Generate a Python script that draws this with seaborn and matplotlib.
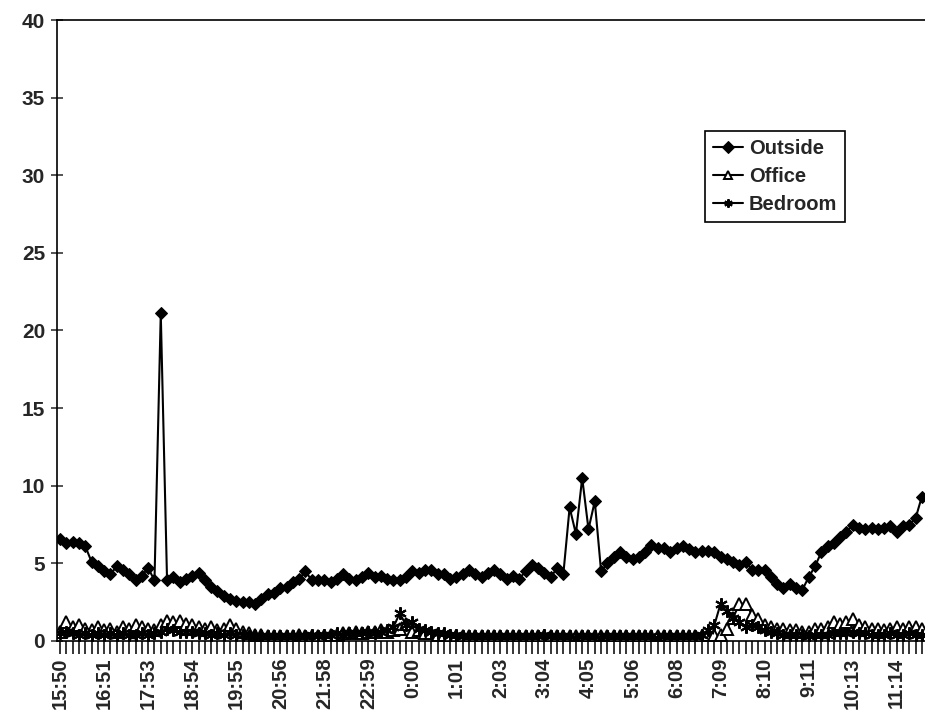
import numpy as np
import pandas as pd
import matplotlib
matplotlib.use("Agg")
import matplotlib.pyplot as plt
import seaborn as sns

# labelled times (every 7th reading)
time_labels = ["15:50", "16:51", "17:53", "18:54", "19:55", "20:56", "21:58",
               "22:59", "0:00", "1:01", "2:03", "3:04", "4:05", "5:06", "6:08",
               "7:09", "8:10", "9:11", "10:13", "11:14"]
label_step = 7

outside = [6.6, 6.3, 6.4, 6.3, 6.1, 5.1, 4.8, 4.5, 4.3, 4.8,
           4.6, 4.3, 3.9, 4.2, 4.7, 3.9, 21.1, 3.9, 4.1, 3.8,
           4.0, 4.2, 4.4, 3.9, 3.5, 3.2, 2.9, 2.7, 2.6, 2.5,
           2.5, 2.4, 2.7, 3.0, 3.1, 3.4, 3.5, 3.8, 4.0, 4.5,
           3.9, 3.9, 3.9, 3.8, 4.0, 4.3, 4.0, 3.9, 4.1, 4.4,
           4.1, 4.2, 4.0, 3.9, 3.9, 4.1, 4.5, 4.4, 4.6, 4.6,
           4.3, 4.3, 4.0, 4.1, 4.3, 4.6, 4.3, 4.1, 4.4, 4.6,
           4.3, 4.0, 4.2, 4.0, 4.5, 4.9, 4.7, 4.4, 4.1, 4.7,
           4.3, 8.6, 6.9, 10.5, 7.2, 9.0, 4.5, 5.0, 5.4, 5.7,
           5.4, 5.3, 5.4, 5.7, 6.2, 6.0, 6.0, 5.7, 6.0, 6.1,
           5.9, 5.7, 5.8, 5.8, 5.7, 5.4, 5.3, 5.1, 4.9, 5.1,
           4.6, 4.6, 4.6, 4.1, 3.7, 3.4, 3.7, 3.4, 3.3, 4.1,
           4.8, 5.7, 6.1, 6.3, 6.7, 7.0, 7.5, 7.3, 7.2, 7.3,
           7.2, 7.3, 7.4, 7.0, 7.4, 7.5, 7.9, 9.3]

office = [0.6, 1.2, 0.9, 1.0, 0.8, 0.7, 0.9, 0.7, 0.8, 0.6,
          0.9, 0.8, 1.0, 0.9, 0.8, 0.7, 1.0, 1.3, 1.2, 1.3,
          1.1, 1.0, 0.9, 0.8, 0.9, 0.7, 0.8, 1.0, 0.8, 0.6,
          0.5, 0.4, 0.4, 0.3, 0.3, 0.3, 0.3, 0.3, 0.4, 0.3,
          0.3, 0.3, 0.3, 0.4, 0.4, 0.5, 0.5, 0.6, 0.5, 0.6,
          0.6, 0.7, 0.6, 0.7, 0.8, 1.1, 0.6, 0.7, 0.5, 0.5,
          0.4, 0.4, 0.3, 0.3, 0.3, 0.3, 0.3, 0.3, 0.3, 0.3,
          0.3, 0.3, 0.3, 0.3, 0.3, 0.3, 0.3, 0.3, 0.3, 0.3,
          0.3, 0.3, 0.3, 0.3, 0.3, 0.3, 0.3, 0.3, 0.3, 0.3,
          0.3, 0.3, 0.3, 0.3, 0.3, 0.3, 0.3, 0.3, 0.3, 0.3,
          0.3, 0.3, 0.3, 0.4, 0.4, 0.4, 0.8, 1.5, 2.4, 2.4,
          1.7, 1.4, 1.0, 0.9, 0.8, 0.8, 0.7, 0.7, 0.6, 0.6,
          0.8, 0.8, 0.9, 1.2, 1.1, 1.2, 1.4, 1.0, 0.9, 0.8,
          0.8, 0.7, 0.8, 0.9, 0.8, 0.9, 0.9, 0.8]

bedroom = [0.5, 0.6, 0.5, 0.4, 0.5, 0.4, 0.5, 0.4, 0.5, 0.4,
           0.5, 0.4, 0.4, 0.5, 0.4, 0.5, 0.6, 0.8, 0.7, 0.6,
           0.6, 0.6, 0.5, 0.5, 0.4, 0.5, 0.4, 0.5, 0.4, 0.4,
           0.3, 0.3, 0.3, 0.3, 0.3, 0.3, 0.3, 0.3, 0.3, 0.3,
           0.4, 0.3, 0.4, 0.4, 0.5, 0.4, 0.5, 0.5, 0.5, 0.6,
           0.5, 0.6, 0.7, 0.9, 1.8, 1.0, 1.2, 0.8, 0.7, 0.6,
           0.5, 0.5, 0.4, 0.4, 0.3, 0.3, 0.3, 0.3, 0.3, 0.3,
           0.3, 0.3, 0.3, 0.3, 0.3, 0.3, 0.3, 0.4, 0.3, 0.3,
           0.3, 0.3, 0.2, 0.3, 0.3, 0.3, 0.2, 0.3, 0.3, 0.3,
           0.3, 0.3, 0.3, 0.3, 0.3, 0.2, 0.3, 0.3, 0.3, 0.3,
           0.3, 0.3, 0.4, 0.7, 1.0, 2.4, 1.9, 1.5, 1.2, 0.9,
           1.0, 0.9, 0.7, 0.6, 0.5, 0.4, 0.4, 0.4, 0.4, 0.3,
           0.4, 0.4, 0.4, 0.5, 0.5, 0.5, 0.6, 0.5, 0.5, 0.4,
           0.4, 0.4, 0.5, 0.4, 0.4, 0.5, 0.4, 0.4]

n = len(outside)
idx = np.arange(n)
df = pd.DataFrame({"i": idx, "Outside": outside, "Office": office, "Bedroom": bedroom})

sns.set_style("ticks")
plt.rcParams["font.family"] = ["Liberation Sans", "DejaVu Sans"]
plt.rcParams["font.weight"] = "bold"

fig = plt.figure(figsize=(9.25, 7.25), dpi=100)
ax = fig.add_axes([0.0616, 0.1159, 0.9384, 0.8565])

sns.lineplot(data=df, x="i", y="Outside", ax=ax, color="black", lw=1.5,
             marker="D", markersize=6.5, markeredgecolor="black", markerfacecolor="black",
             label="Outside")
sns.lineplot(data=df, x="i", y="Office", ax=ax, color="black", lw=1.5,
             marker="^", markersize=8, markeredgecolor="black", markerfacecolor="white",
             markeredgewidth=1.4, label="Office")
sns.lineplot(data=df, x="i", y="Bedroom", ax=ax, color="black", lw=1.5,
             marker=(6, 2, 0), markersize=9, markeredgecolor="black",
             markeredgewidth=1.5, label="Bedroom")

ax.set_xlim(-0.5, n - 0.5)
ax.set_ylim(0, 40)
ax.set_yticks(range(0, 41, 5))
ax.set_xticks(idx)
xt = [""] * n
for k, lab in enumerate(time_labels):
    if k * label_step < n:
        xt[k * label_step] = lab
ax.set_xticklabels(xt, rotation=90, fontsize=14.5, fontweight="bold")
ax.tick_params(axis="x", direction="out", length=9, width=1.1, color="black", pad=3)
ax.tick_params(axis="y", direction="inout", length=9, width=1.1, labelsize=15, pad=4)
for t in ax.get_yticklabels():
    t.set_fontweight("bold")
ax.set_xlabel("")
ax.set_ylabel("")

for s in ["left", "bottom", "top"]:
    ax.spines[s].set_color("black")
    ax.spines[s].set_linewidth(1.2)
ax.spines["right"].set_visible(False)

leg = ax.legend(loc="upper left", bbox_to_anchor=(0.746, 0.822),
                prop={"size": 14.5, "weight": "bold"},
                frameon=True, fancybox=False, edgecolor="black", framealpha=1,
                handlelength=1.5, handletextpad=0.3, borderpad=0.4,
                labelspacing=0.45, borderaxespad=0)
leg.get_frame().set_linewidth(1.2)
for h in leg.legend_handles:
    h.set_markersize(6)

fig.savefig("out.png", dpi=100, facecolor="white")
